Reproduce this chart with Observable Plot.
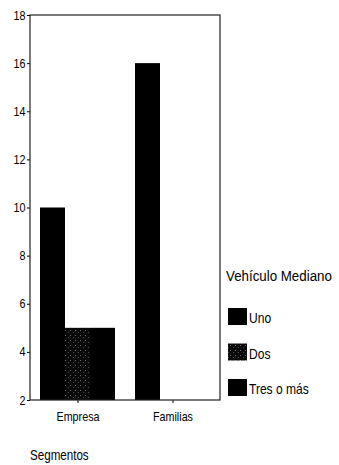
<!DOCTYPE html>
<html>
<head>
<meta charset="utf-8">
<script src="https://cdn.jsdelivr.net/npm/d3@7"></script>
<script src="https://cdn.jsdelivr.net/npm/@observablehq/plot@0.6"></script>
<style>
  html, body { margin: 0; padding: 0; background: #fff; }
  #chart { width: 339px; height: 465px; }
</style>
</head>
<body>
<div id="chart"></div>
<script>
// ---- data ----
const segments = ["Empresa", "Familias"];
const series = ["Uno", "Dos", "Tres o más"];
const uno = [10, 16];
const dos = [5, 0];
const tres = [5, 0];
const yTicks = [2, 4, 6, 8, 10, 12, 14, 16, 18];
const legendTitle = "Vehículo Mediano";
const xTitle = "Segmentos";

const seriesValues = [uno, dos, tres];
const data = segments.flatMap((s, i) =>
  series.map((k, j) => ({segment: s, series: k, value: seriesValues[j][i]}))
);

const W = 339, H = 465;
const mT = 15, mB = 65, mL = 30, mR = 119;
const FONT = "'Liberation Sans', Arial, sans-serif";
const NARROW = 0.86;

const chart = Plot.plot({
  width: W, height: H,
  marginTop: mT, marginBottom: mB, marginLeft: mL, marginRight: mR,
  style: {fontFamily: FONT, fontSize: "12.5px", color: "#000", background: "#fff"},
  fx: {domain: segments, padding: 0, axis: "bottom", label: null, tickSize: 3, tickPadding: 9},
  x: {domain: series, axis: null, paddingInner: 0, paddingOuter: 0.37},
  y: {domain: [2, 18], ticks: yTicks, tickSize: 3, tickPadding: 2, label: null},
  color: {domain: series, range: ["#000", "url(#speckle)", "#000"]},
  marks: [
    Plot.barY(data, {fx: "segment", x: "series", y1: 2, y2: "value", fill: "series", clip: true})
  ]
});

const svg = d3.select(chart);
// narrow look for axis labels
svg.selectAll("text").each(function() {
  const t = this.getAttribute("transform") || "";
  this.setAttribute("transform", (t + ` scale(${NARROW},1)`).trim());
  this.setAttribute("fill", "#000");
});

// speckle pattern for "Dos"
const defs = svg.insert("defs", ":first-child");
const pat = defs.append("pattern").attr("id", "speckle")
  .attr("patternUnits", "userSpaceOnUse").attr("width", 5).attr("height", 5);
pat.append("rect").attr("width", 5).attr("height", 5).attr("fill", "#0a0a0a");
pat.append("rect").attr("x", 0).attr("y", 0).attr("width", 1).attr("height", 1).attr("fill", "#6a6a6a");
pat.append("rect").attr("x", 3).attr("y", 2).attr("width", 1).attr("height", 1).attr("fill", "#4a4a4a");

// frame
const ys = chart.scale("y");
const yTop = ys.apply(18), yBottom = ys.apply(2);
svg.append("rect")
  .attr("x", mL).attr("y", yTop)
  .attr("width", W - mR - mL).attr("height", yBottom - yTop)
  .attr("fill", "none").attr("stroke", "#222").attr("stroke-width", 1.2);

function label(g, x, y, size, text, sx = NARROW) {
  return g.append("text")
    .attr("transform", `translate(${x},${y}) scale(${sx},1)`)
    .attr("text-anchor", "start")
    .attr("font-family", FONT)
    .attr("font-size", size)
    .attr("fill", "#000")
    .text(text);
}

// legend
const lx = 228, ly = 281;
const lg = svg.append("g");
label(lg, lx - 2, ly, 15.5, legendTitle);
series.forEach((s, i) => {
  const y = ly + 27 + i * 35.5;
  lg.append("rect").attr("x", lx).attr("y", y).attr("width", 19).attr("height", 17)
    .attr("fill", chart.scale("color").apply(s));
  label(lg, lx + 21, y + 15, 14, s);
});

// x title
label(svg, mL, 460, 14.5, xTitle, 0.8);

document.getElementById("chart").appendChild(chart);
</script>
</body>
</html>
